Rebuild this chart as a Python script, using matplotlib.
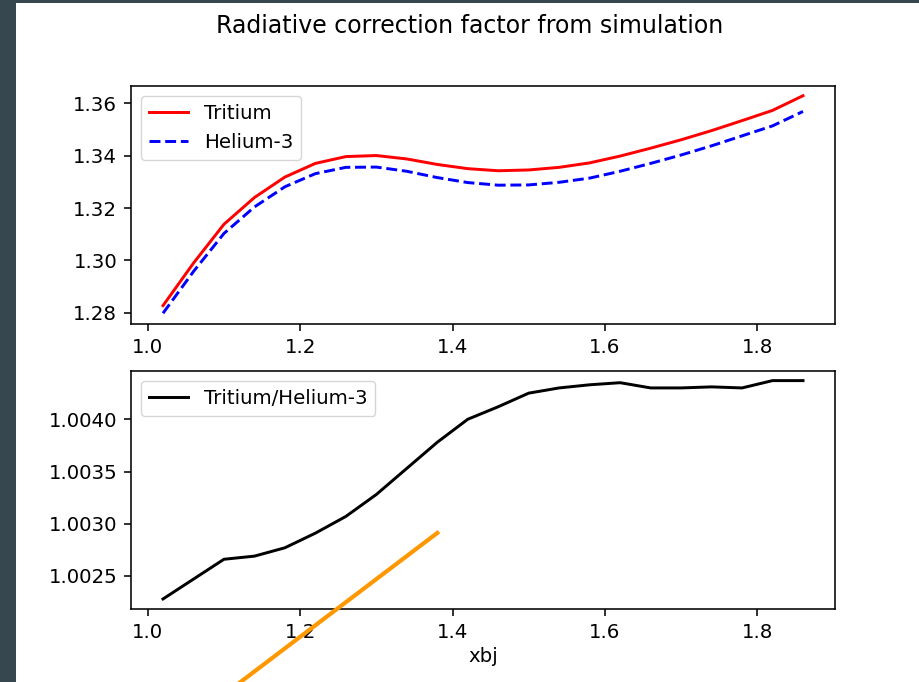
import numpy as np
import matplotlib
matplotlib.use("Agg")
import matplotlib.pyplot as plt
from matplotlib.patches import Rectangle

# xbj bins
xbj = [1.02, 1.06, 1.10, 1.14, 1.18, 1.22, 1.26, 1.30, 1.34, 1.38, 1.42,
       1.46, 1.50, 1.54, 1.58, 1.62, 1.66, 1.70, 1.74, 1.78, 1.82, 1.86]

# radiative correction factors
tritium = [1.2828, 1.2990, 1.3138, 1.3240, 1.3318, 1.3370, 1.3396, 1.3400,
           1.3387, 1.3366, 1.3350, 1.3342, 1.3345, 1.3355, 1.3372, 1.3398,
           1.3428, 1.3460, 1.3495, 1.3533, 1.3572, 1.3628]
helium3 = [1.2799, 1.2958, 1.3103, 1.3204, 1.3281, 1.3331, 1.3355, 1.3356,
           1.3340, 1.3316, 1.3297, 1.3287, 1.3288, 1.3298, 1.3314, 1.3340,
           1.3370, 1.3402, 1.3437, 1.3475, 1.3513, 1.3568]
ratio = [1.00228, 1.00247, 1.00266, 1.00269, 1.00277, 1.00291, 1.00307,
         1.00328, 1.00353, 1.00378, 1.00400, 1.00412, 1.00425, 1.00430,
         1.00433, 1.00435, 1.00430, 1.00430, 1.00431, 1.00430, 1.00437,
         1.00437]

# orange marker stroke drawn over the lower panel (data coords of that panel)
mark_x = [1.10, 1.38]
mark_y = [1.001365, 1.002912]

W, H = 920, 682
S = 1.42  # screenshot scale

plt.rcParams["font.size"] = 10 * S
plt.rcParams["axes.linewidth"] = 0.8 * S
for a in ("xtick", "ytick"):
    plt.rcParams[a + ".major.size"] = 3.5 * S
    plt.rcParams[a + ".major.width"] = 0.8 * S
    plt.rcParams[a + ".major.pad"] = 3.5 * S

fig = plt.figure(figsize=(W / 100, H / 100), dpi=100, facecolor="#37474f")
fig.patches.append(Rectangle((16 / W, 0), 1, (H - 3) / H, transform=fig.transFigure,
                             facecolor="white", edgecolor="none", zorder=-10))

def box(l, t, r, b):
    return [l / W, 1 - b / H, (r - l) / W, (b - t) / H]

ax1 = fig.add_axes(box(131, 86, 835, 324))
ax2 = fig.add_axes(box(131, 371, 835, 609))

lw = 1.5 * S
ax1.plot(xbj, tritium, "r", lw=lw, label="Tritium")
ax1.plot(xbj, helium3, "b--", lw=lw, label="Helium-3")
ax1.set_xlim(0.978, 1.902)
ax1.set_ylim(1.2758, 1.3665)
ax1.set_yticks([1.28, 1.30, 1.32, 1.34, 1.36])
ax1.legend(loc="upper left", fontsize=10 * S)

ax2.plot(xbj, ratio, "k", lw=lw, label="Tritium/Helium-3")
ax2.set_xlim(0.978, 1.902)
ax2.set_ylim(1.002184, 1.004462)
ax2.set_yticks([1.0025, 1.0030, 1.0035, 1.0040])
ax2.yaxis.set_major_formatter(plt.FormatStrFormatter("%.4f"))
ax2.legend(loc="upper left", fontsize=10 * S)
ax2.set_xlabel("xbj")

for ax in (ax1, ax2):
    ax.set_xticks([1.0, 1.2, 1.4, 1.6, 1.8])

ax2.plot(mark_x, mark_y, color="#ff9800", lw=3.0, clip_on=False, zorder=5)

fig.text(470 / W, 1 - 26 / H, "Radiative correction factor from simulation",
         ha="center", va="center", fontsize=12 * S)

fig.savefig("out.png", dpi=100, facecolor=fig.get_facecolor())
